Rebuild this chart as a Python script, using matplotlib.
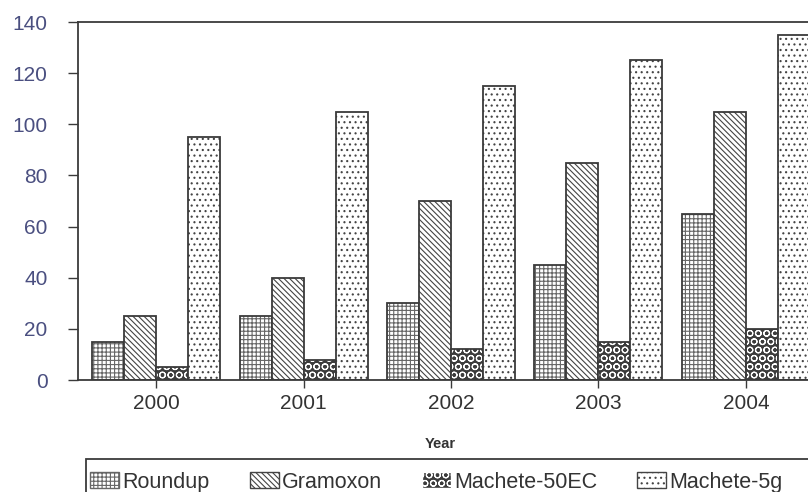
import numpy as np
import matplotlib
matplotlib.use("Agg")
import matplotlib.pyplot as plt
from matplotlib.patches import Patch, Rectangle

years = ["2000", "2001", "2002", "2003", "2004"]
series_names = ["Roundup", "Gramoxon", "Machete-50EC", "Machete-5g"]
roundup = [15, 25, 30, 45, 65]
gramoxon = [25, 40, 70, 85, 105]
machete_50ec = [5, 8, 12, 15, 20]
machete_5g = [95, 105, 115, 125, 135]
y_ticks = [0, 20, 40, 60, 80, 100, 120, 140]

plt.rcParams["font.family"] = ["Liberation Sans", "DejaVu Sans"]
plt.rcParams["hatch.linewidth"] = 0.8

fig = plt.figure(figsize=(8.08, 4.92), dpi=100)
ax = fig.add_axes([0.0965, 0.2276, 0.9233, 0.7276])

x = np.arange(len(years))
w = 0.217
edge = "#3a3a3a"

# style per series: (facecolor, hatch, hatch colour)
styles = [
    ("white", "++++", "#666666"),
    ("white", "\\\\\\\\\\\\", "#444444"),
    ("#3c3c3c", "OO", "white"),
    ("white", "...", "#444444"),
]
data = [roundup, gramoxon, machete_50ec, machete_5g]

for i, (vals, (fc, hatch, hc)) in enumerate(zip(data, styles)):
    pos = x + (i - 1.5) * w
    ax.bar(pos, vals, w, color=fc, edgecolor=hc, hatch=hatch, linewidth=0)
    ax.bar(pos, vals, w, fill=False, edgecolor=edge, linewidth=1.3)

ax.set_xlim(-0.53, 4.53)
ax.set_ylim(0, 140)
ax.set_yticks(y_ticks)
ax.set_xticks(x)
ax.set_xticklabels(years)

ax.tick_params(axis="y", direction="out", length=7, width=1, color=edge,
               labelsize=15, labelcolor="#4a4f80", pad=15)
ax.tick_params(axis="x", direction="out", length=6, width=1, color=edge,
               labelsize=15, labelcolor="#333333", pad=4)
for s in ["left", "top", "bottom"]:
    ax.spines[s].set_color(edge)
    ax.spines[s].set_linewidth(1.3)
ax.spines["right"].set_visible(False)

fig.text(0.545, 0.098, "Year", ha="center", va="center", fontsize=10.5,
         fontweight="bold", color="#333333")

handles = []
for name, (fc, hatch, hc) in zip(series_names, styles):
    handles.append(Patch(facecolor=fc, edgecolor=hc, hatch=hatch, label=name))
leg = fig.legend(handles=handles, loc="upper left", bbox_to_anchor=(0.093, 0.072),
                 ncol=4, fontsize=15.5, frameon=False,
                 handlelength=1.35, handleheight=0.8, handletextpad=0.15,
                 columnspacing=1.85, borderpad=0.2, labelcolor="#333333")

# legend frame runs past the right edge of the picture
fig.patches.append(Rectangle((0.107, -0.02), 0.92, 0.087, transform=fig.transFigure,
                             fill=False, edgecolor=edge, linewidth=1.3))

fig.savefig("out.png", dpi=100)
